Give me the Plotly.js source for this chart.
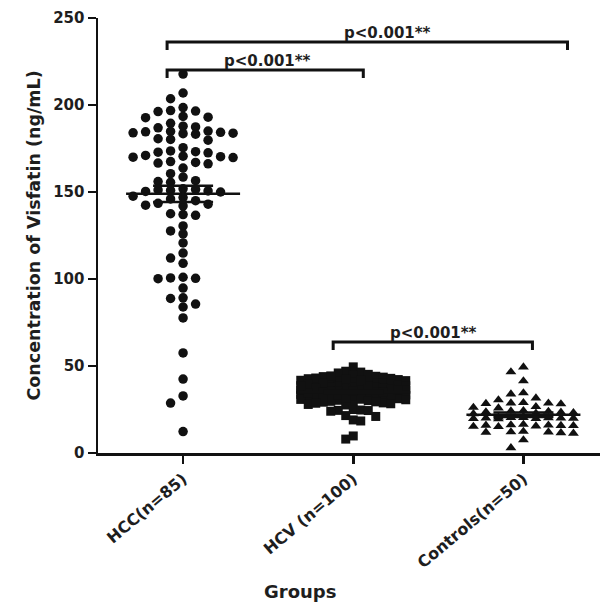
<!DOCTYPE html>
<html><head><meta charset="utf-8">
<script src="https://cdn.plot.ly/plotly-3.0.1.min.js"></script>
<style>html,body{margin:0;padding:0;background:#fff}#chart{width:604px;height:605px}</style>
</head><body><div id="chart"></div>
<script>
// ---------------- data ----------------
const categories = ['HCC(n=85)', 'HCV (n=100)', 'Controls(n=50)'];
const yTicks = [0, 50, 100, 150, 200, 250];

const hccValues = [
  217.8, 206.9, 203.6, 198.5, 196.8, 196.5, 196.2, 193.4, 193.0, 192.7,
  189.5, 187.8, 187.4, 186.9, 185.0, 184.6, 184.3, 184.0, 183.8, 183.5,
  183.2, 184.8, 180.6, 180.2, 179.8, 175.5, 173.6, 173.2, 172.9, 172.5,
  171.0, 170.6, 170.3, 170.0, 169.8, 167.5, 167.0, 166.6, 166.2, 163.8,
  160.5, 158.6, 156.5, 156.0, 155.6, 151.8, 151.5, 151.2, 150.9, 150.6,
  150.3, 150.0, 147.6, 146.8, 146.0, 145.0, 143.5, 143.0, 142.4, 142.0,
  137.5, 137.0, 136.6, 130.5, 127.6, 125.9, 120.7, 114.9, 112.0, 109.0,
  101.0, 100.6, 100.4, 100.2, 94.8, 89.2, 88.8, 85.6, 83.9, 77.6,
  57.5, 42.5, 32.8, 28.7, 12.3
];

const hcvValues = [
  49.5, 47.0, 46.5, 46.0,
  45.2, 44.8, 44.1, 43.6, 43.9, 42.7, 42.2, 42.9, 41.8, 41.3,
  41.6, 40.9, 40.4, 40.1, 40.7, 39.8, 39.2, 39.5, 39.9, 38.6,
  38.1, 38.9, 38.4, 37.7, 37.2, 37.9, 37.4, 36.8, 36.3, 36.6,
  36.1, 35.7, 35.2, 35.9, 35.4, 34.8, 34.3, 34.6, 34.1, 33.7,
  33.2, 33.9, 33.4, 32.8, 32.3, 32.6, 32.1, 31.7, 31.2, 31.9,
  30.8, 30.3, 30.6, 29.7, 29.2, 29.9, 28.8, 28.3, 27.6, 27.9,
  44.3, 43.1, 42.4, 41.1, 40.2, 39.6, 38.3, 37.1, 36.9, 36.2,
  35.1, 34.9, 34.4, 33.3, 32.9, 32.4, 31.4, 30.9, 30.1, 29.4,
  28.6, 41.9, 38.7, 36.4, 35.6,
  25.0, 24.7, 24.5, 24.4, 24.0, 21.5, 21.0, 19.0, 18.4, 9.8, 8.0
];

const controlValues = [
  49.4, 46.6, 41.4, 34.5, 33.9, 31.6, 30.5,
  28.9, 28.7, 28.6, 28.4, 28.2,
  26.6, 26.2, 25.8,
  24.3, 24.1, 23.9, 23.6, 23.4, 23.2, 22.8, 22.5,
  20.6, 20.4, 20.3, 20.2, 20.1, 20.0, 19.9, 19.8, 19.7, 19.6,
  16.4, 16.1, 16.0, 15.9, 15.8, 15.7, 15.5, 15.3, 15.1,
  12.4, 12.1, 12.0, 11.9, 11.6, 11.3,
  7.5, 3.0
];

const pLabels = ['p<0.001**', 'p<0.001**', 'p<0.001**'];

// ---------------- geometry / styles ----------------
const W = 604, H = 605;
const M = {l: 98, r: 4, t: 18, b: 152};
const xRange = [-0.5, 2.45], yRange = [0, 250];
const plotW = W - M.l - M.r, plotH = H - M.t - M.b;
const pxPerX = plotW / (xRange[1] - xRange[0]);
const pxPerY = plotH / (yRange[1] - yRange[0]);
const INK = '#111111';
const TXT = '#1e1e1e';
const FONT = 'DejaVu Sans, Arial, sans-serif';

// column-slot beeswarm (GraphPad-like): offsets computed from the values
function swarm(values, o) {
  const idx = values.map((v, i) => i).sort((a, b) => values[b] - values[a]);
  const slots = {};
  const order = [0];
  for (let k = 1; k <= o.maxSlot; k++) order.push(-k, k);
  const off = new Array(values.length);
  idx.forEach(i => {
    const ypx = values[i] * pxPerY;
    let best = 0, bestClear = -1;
    for (const s of order) {
      const arr = slots[s] || [];
      let clear = Infinity;
      arr.forEach(y => { clear = Math.min(clear, Math.abs(y - ypx)); });
      if (clear >= o.gap) { best = s; bestClear = clear; break; }
      if (clear > bestClear) { bestClear = clear; best = s; }
    }
    (slots[best] = slots[best] || []).push(ypx);
    off[i] = best * o.step / pxPerX;
  });
  return off;
}

const groups = [
  {vals: hccValues, symbol: 'circle', size: 9.5, sw: {step: 12.5, maxSlot: 4, gap: 8}},
  {vals: hcvValues, symbol: 'square', size: 9, sw: {step: 7.5, maxSlot: 7, gap: 8}},
  {vals: controlValues, symbol: 'triangle-up', size: 9.5, sw: {step: 12.5, maxSlot: 4, gap: 8}}
];

const traces = [];
groups.forEach((g, ci) => {
  const off = swarm(g.vals, g.sw);
  traces.push({
    type: 'scatter', mode: 'markers',
    x: g.vals.map((v, i) => ci + off[i]), y: g.vals,
    marker: {symbol: g.symbol, size: g.size, color: INK, line: {width: 0}},
    hoverinfo: 'y', showlegend: false
  });
});

// mean line and SEM caps computed from each group's data
const meanHalf = 57 / pxPerX;
groups.forEach((g, ci) => {
  const n = g.vals.length;
  const mean = g.vals.reduce((a, b) => a + b, 0) / n;
  const sd = Math.sqrt(g.vals.reduce((a, b) => a + (b - mean) ** 2, 0) / (n - 1));
  const sem = sd / Math.sqrt(n);
  traces.push({
    type: 'scatter', mode: 'lines', x: [ci - meanHalf, ci + meanHalf], y: [mean, mean],
    line: {color: INK, width: 2.5}, hoverinfo: 'skip', showlegend: false
  });
  traces.push({
    type: 'scatter', mode: 'markers', x: [ci], y: [mean],
    marker: {size: 2, color: 'rgba(0,0,0,0)'},
    error_y: {type: 'data', array: [sem], visible: true, color: INK, thickness: 2.5, width: 30},
    hoverinfo: 'skip', showlegend: false
  });
});

// significance brackets (annotation layer)
const brackets = [
  {from: -0.094, to: 2.259, y: 236.2, drop: 4.6, lx: 1.2, text: pLabels[0]},
  {from: -0.094, to: 1.059, y: 220.1, drop: 4.6, lx: 0.494, text: pLabels[1]},
  {from: 0.882, to: 2.053, y: 63.8, drop: 4.6, lx: 1.47, text: pLabels[2]}
];
const shapes = brackets.map(b => ({
  type: 'path', xref: 'x', yref: 'y',
  path: `M${b.from},${b.y - b.drop} L${b.from},${b.y} L${b.to},${b.y} L${b.to},${b.y - b.drop}`,
  line: {color: INK, width: 3}
}));
const annotations = brackets.map(b => ({
  x: b.lx, y: b.y, xref: 'x', yref: 'y', text: b.text, showarrow: false,
  xanchor: 'center', yanchor: 'bottom', yshift: -2,
  font: {family: FONT, size: 15, color: TXT, weight: 'bold'}
}));
annotations.push({
  text: 'Concentration of Visfatin (ng/mL)', xref: 'paper', yref: 'paper',
  x: (33 - M.l) / plotW, y: 0.5, xanchor: 'center', yanchor: 'middle', textangle: -90,
  showarrow: false, font: {family: FONT, size: 17.5, color: TXT, weight: 'bold'}
});
annotations.push({
  text: 'Groups', xref: 'paper', yref: 'paper',
  x: (300 - M.l) / plotW, y: (H - M.b - 591) / plotH, xanchor: 'center', yanchor: 'middle',
  showarrow: false, font: {family: FONT, size: 18, color: TXT, weight: 'bold'}
});

const layout = {
  width: W, height: H, margin: M,
  paper_bgcolor: '#ffffff', plot_bgcolor: '#ffffff',
  showlegend: false,
  xaxis: {
    range: xRange, tickmode: 'array', tickvals: [0, 1, 2], ticktext: categories,
    tickangle: -40, showgrid: false, zeroline: false,
    showline: true, linecolor: INK, linewidth: 2.5,
    ticks: 'outside', ticklen: 8, tickwidth: 2.5, tickcolor: INK,
    tickfont: {family: FONT, size: 16, color: TXT, weight: 'bold'}
  },
  yaxis: {
    range: yRange, tickmode: 'array', tickvals: yTicks,
    showgrid: false, zeroline: false,
    showline: true, linecolor: INK, linewidth: 2.5,
    ticks: 'outside', ticklen: 8, tickwidth: 2.5, tickcolor: INK,
    tickfont: {family: FONT, size: 15, color: TXT, weight: 'bold'}
  },
  shapes: shapes,
  annotations: annotations
};

Plotly.newPlot('chart', traces, layout, {staticPlot: true, displayModeBar: false});
</script>
</body></html>
